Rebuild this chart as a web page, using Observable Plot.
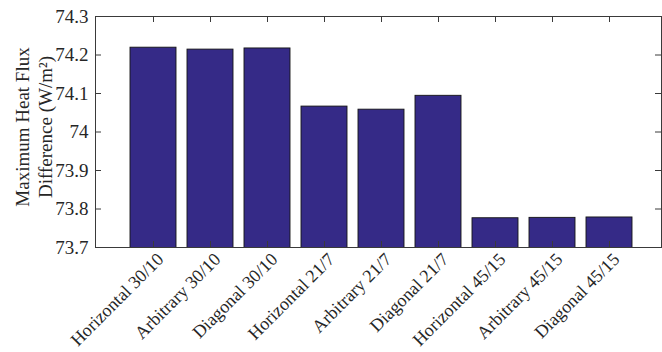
<!DOCTYPE html>
<html>
<head>
<meta charset="utf-8">
<script src="https://cdn.jsdelivr.net/npm/d3@7"></script>
<script src="https://cdn.jsdelivr.net/npm/@observablehq/plot@0.6"></script>
<style>
  html, body { margin: 0; padding: 0; background: #fff; }
  #chart svg { display: block; }
</style>
</head>
<body>
<div id="chart"></div>
<script>
// Grid configurations and their maximum heat flux difference (W/m²)
const categories = [
  "Horizontal 30/10", "Arbitrary 30/10", "Diagonal 30/10",
  "Horizontal 21/7", "Arbitrary 21/7", "Diagonal 21/7",
  "Horizontal 45/15", "Arbitrary 45/15", "Diagonal 45/15"
];
const values = [74.219, 74.214, 74.217, 74.066, 74.058, 74.094, 73.776, 73.777, 73.778];
const yTicks = [73.7, 73.8, 73.9, 74.0, 74.1, 74.2, 74.3];
const yLabel = "Maximum Heat Flux\nDifference (W/m²)";

const data = categories.map((name, i) => ({name, value: values[i]}));

const W = 662, H = 352;
const mL = 95, mR = 1, mT = 16, mB = 105;
const plotW = W - mL - mR, plotH = H - mT - mB;
const tickLen = 6;

const chart = Plot.plot({
  width: W,
  height: H,
  marginLeft: mL,
  marginRight: mR,
  marginTop: mT,
  marginBottom: mB,
  style: {fontFamily: "'Liberation Serif', 'Times New Roman', serif", fontSize: "19px", color: "#262626", background: "#fff"},
  x: {domain: categories, range: [mL, mL + 571], paddingInner: 0.2, paddingOuter: 0.6, axis: null},
  y: {domain: [73.7, 74.3], axis: null},
  marks: [
    Plot.barY(data, {x: "name", y: "value", fill: "#352A87", stroke: "#141414", strokeWidth: 0.9, clip: true}),
    Plot.frame({stroke: "#3a3a3a", strokeWidth: 1}),
    // inward ticks on all four sides of the box
    Plot.tickY(yTicks, {y: d => d, insetRight: plotW - tickLen, stroke: "#3a3a3a"}),
    Plot.tickY(yTicks, {y: d => d, insetLeft: plotW - tickLen, stroke: "#3a3a3a"}),
    Plot.tickX(categories, {x: d => d, insetTop: plotH - tickLen, stroke: "#3a3a3a"}),
    Plot.tickX(categories, {x: d => d, insetBottom: plotH - tickLen, stroke: "#3a3a3a"}),
    // y tick labels
    Plot.text(yTicks, {
      y: d => d, frameAnchor: "left", textAnchor: "end", lineAnchor: "middle",
      text: d => String(+d.toFixed(1)), dx: -7, fill: "#262626", fontSize: 19
    }),
    // rotated category labels
    Plot.text(categories, {
      x: d => d, frameAnchor: "bottom", rotate: -45, textAnchor: "end", lineAnchor: "bottom",
      dx: 11, dy: 13, fill: "#262626", fontSize: 18
    }),
    // y-axis title
    Plot.text([yLabel], {
      frameAnchor: "left", rotate: -90, textAnchor: "middle", lineAnchor: "bottom",
      lineHeight: 1.2, dx: -44, dy: -5, fill: "#262626", fontSize: 19
    })
  ]
});

document.getElementById("chart").appendChild(chart);
</script>
</body>
</html>
